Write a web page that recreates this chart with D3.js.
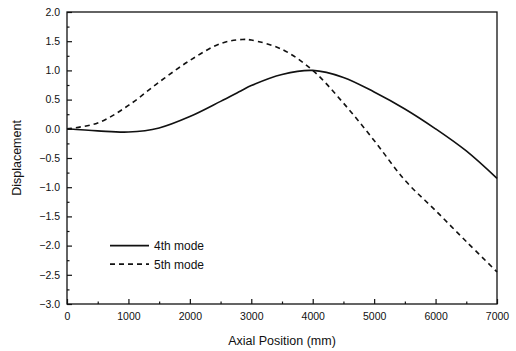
<!DOCTYPE html>
<html>
<head>
<meta charset="utf-8">
<script src="https://cdn.jsdelivr.net/npm/d3@7"></script>
<style>
  body { margin: 0; background: #fff; }
  text { font-family: "Liberation Sans", Arial, sans-serif; fill: #111; }
</style>
</head>
<body>
<script>
// axial positions (mm) and modal displacements
const positions = [0, 500, 1000, 1500, 2000, 2500, 2850, 3000, 3500, 4000, 4500, 5000, 5500, 6000, 6500, 7000];
const mode4 = [0, -0.035, -0.055, 0.015, 0.21, 0.47, 0.66, 0.74, 0.93, 1.0, 0.88, 0.63, 0.34, 0.0, -0.38, -0.85];
const mode5 = [0, 0.1, 0.4, 0.8, 1.17, 1.46, 1.53, 1.52, 1.36, 1.0, 0.44, -0.2, -0.88, -1.4, -1.93, -2.45];
const seriesNames = ['4th mode', '5th mode'];
const xTicks = [0, 1000, 2000, 3000, 4000, 5000, 6000, 7000];
const yTicks = [2.0, 1.5, 1.0, 0.5, 0.0, -0.5, -1.0, -1.5, -2.0, -2.5, -3.0];

const W = 516, H = 351;
const margin = { top: 12, right: 19, bottom: 47, left: 67 };
const width = W - margin.left - margin.right;
const height = H - margin.top - margin.bottom;

const x = d3.scaleLinear().domain([0, 7000]).range([0, width]);
const y = d3.scaleLinear().domain([-3, 2]).range([height, 0]);

const svg = d3.select('body').append('svg')
	.attr('width', W).attr('height', H)
	.append('g').attr('transform', 'translate(' + margin.left + ',' + margin.top + ')');

// frame
svg.append('rect').attr('width', width).attr('height', height)
	.attr('fill', 'none').attr('stroke', '#111').attr('stroke-width', 1.3);

// minor ticks
svg.append('g').attr('transform', 'translate(0,' + height + ')')
	.call(d3.axisBottom(x).tickValues(d3.range(500, 7000, 1000)).tickSize(-2.5).tickFormat(''))
	.call(g => g.select('.domain').remove());
svg.append('g')
	.call(d3.axisLeft(y).tickValues(d3.range(-2.75, 2, 0.5)).tickSize(-2.5).tickFormat(''))
	.call(g => g.select('.domain').remove());

// major ticks
const xAxis = svg.append('g').attr('transform', 'translate(0,' + height + ')')
	.call(d3.axisBottom(x).tickValues(xTicks).tickSize(-5).tickPadding(9).tickFormat(d3.format('d')));
xAxis.select('.domain').remove();
xAxis.selectAll('text').style('font-size', '10.5px');

const yAxis = svg.append('g')
	.call(d3.axisLeft(y).tickValues(yTicks).tickSize(-5).tickPadding(7).tickFormat(d3.format('.1f')));
yAxis.select('.domain').remove();
yAxis.selectAll('text').style('font-size', '10.5px');
svg.selectAll('.tick line').attr('stroke', '#111').attr('stroke-width', 1.2);

// axis titles
svg.append('text')
	.attr('x', width / 2).attr('y', height + 41)
	.attr('text-anchor', 'middle')
	.style('font-size', '12.5px')
	.text('Axial Position (mm)');
svg.append('text')
	.attr('transform', 'translate(' + (-46) + ',' + (height / 2) + ') rotate(-90)')
	.attr('text-anchor', 'middle')
	.style('font-size', '12.5px')
	.text('Displacement');

// curves
const line = d3.line()
	.x(d => x(d[0]))
	.y(d => y(d[1]))
	.curve(d3.curveCatmullRom.alpha(0.5));

const series = [mode4, mode5].map(vals => positions.map((p, i) => [p, vals[i]]));
const dashes = [null, '5,4'];

series.forEach((s, i) => {
	svg.append('path')
		.datum(s)
		.attr('fill', 'none')
		.attr('stroke', '#111')
		.attr('stroke-width', 1.6)
		.attr('stroke-dasharray', dashes[i])
		.attr('d', line);
});

// legend
const legend = svg.append('g').attr('transform', 'translate(43,' + (y(-2.0)) + ')');
seriesNames.forEach((name, i) => {
	const row = legend.append('g').attr('transform', 'translate(0,' + (i * 18.5) + ')');
	row.append('line')
		.attr('x1', 0).attr('x2', 39).attr('y1', 0).attr('y2', 0)
		.attr('stroke', '#111').attr('stroke-width', 1.6)
		.attr('stroke-dasharray', dashes[i]);
	row.append('text')
		.attr('x', 44).attr('y', 4.5)
		.style('font-size', '12px')
		.text(name);
});
</script>
</body>
</html>
